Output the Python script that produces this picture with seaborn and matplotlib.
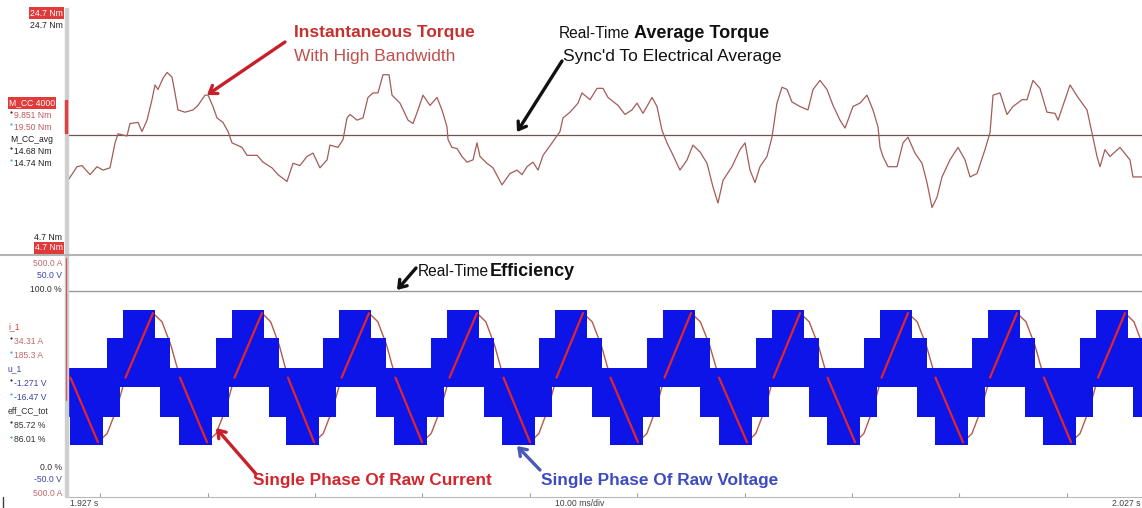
import matplotlib
matplotlib.use('Agg')
import matplotlib.pyplot as plt
import seaborn as sns

# time axis: ms after 1.927 s, 10 ms/div
torque_t = [0.0, 0.84, 1.30, 2.05, 2.70, 3.26, 3.91, 4.38, 4.66, 5.49, 5.77, 6.52, 6.89, 7.36,
            7.82, 8.10, 8.38, 8.85, 9.22, 9.68, 9.96, 10.24, 10.89, 11.64, 12.10, 12.76, 13.04,
            13.50, 13.87, 14.43, 14.90, 15.27, 16.20, 16.67, 17.60, 18.16, 18.99, 19.55, 20.39,
            20.95, 21.60, 22.25, 22.81, 23.46, 24.12, 24.39, 25.14, 25.61, 25.98, 26.26, 26.91,
            27.47, 27.93, 28.40, 28.86, 29.33, 29.89, 30.17, 30.91, 31.66, 32.12, 32.59, 33.05,
            33.71, 34.36, 34.82, 35.29, 35.38, 35.75, 36.22, 36.68, 37.15, 37.71, 38.08, 38.36,
            39.01, 39.57, 40.41, 41.15, 41.81, 42.27, 42.74, 43.30, 43.76, 44.23, 45.07, 45.81,
            46.09, 46.74, 47.49, 47.86, 48.60, 49.26, 49.81, 50.28, 51.21, 51.86, 52.51, 52.98,
            53.54, 54.38, 54.84, 55.31, 55.77, 56.24, 56.98, 57.64, 58.19, 58.85, 59.50, 60.06,
            60.52, 60.99, 61.82, 62.57, 63.04, 63.50, 63.97, 64.43, 65.08, 65.55, 66.01, 66.48,
            66.95, 67.41, 68.16, 68.90, 69.37, 70.02, 70.67, 71.23, 71.88, 72.35, 73.09, 73.74,
            74.39, 74.95, 75.42, 75.61, 75.88, 76.35, 77.19, 77.75, 78.21, 78.86, 79.52, 79.98,
            80.45, 80.91, 81.38, 82.12, 82.87, 83.52, 83.99, 84.64, 85.38, 85.85, 86.13, 86.78,
            87.43, 87.99, 88.83, 89.29, 89.85, 90.50, 91.15, 91.90, 92.18, 93.30, 94.04, 94.88,
            95.34, 95.81, 96.09, 96.55, 97.02, 97.95, 98.88, 99.16, 100.0]
torque_nm = [10.4, 11.6, 11.7, 10.9, 11.6, 11.3, 11.5, 13.7, 14.5, 14.3, 15.4, 15.5, 14.7, 15.7,
             17.5, 18.8, 18.4, 19.4, 19.9, 19.5, 18.1, 16.6, 16.4, 16.6, 17.0, 17.9, 17.9,
             16.9, 15.9, 15.5, 14.7, 13.7, 13.3, 12.6, 12.6, 12.0, 11.5, 10.9, 10.3,
             11.9, 11.7, 12.5, 12.8, 11.5, 12.2, 13.5, 13.3, 14.0, 15.9, 16.2, 15.7,
             15.9, 17.7, 18.1, 18.1, 19.7, 19.7, 17.9, 17.2, 15.7, 15.4, 16.6, 17.9,
             17.0, 17.7, 16.6, 15.1, 14.0, 13.3, 13.2, 12.5, 12.0, 12.2, 13.7, 12.5,
             11.9, 11.5, 10.0, 11.0, 11.3, 10.9, 11.6, 12.0, 11.3, 12.6, 13.7, 14.7,
             15.9, 16.4, 17.2, 18.1, 17.5, 18.5, 18.5, 17.7, 17.0, 16.2, 16.6, 17.2,
             16.3, 17.7, 16.9, 14.8, 13.7, 12.8, 11.3, 12.2, 13.5, 12.9, 11.9, 9.8,
             8.4, 10.4, 11.6, 13.1, 13.7, 11.3, 10.2, 11.6, 12.5, 14.2, 17.2, 18.6,
             18.4, 17.3, 16.9, 16.6, 18.4, 19.2, 18.4, 17.0, 15.7, 15.0, 16.9, 17.2,
             17.9, 16.6, 15.1, 13.3, 12.5, 11.6, 11.6, 13.7, 14.2, 12.8, 11.9, 10.2,
             8.0, 8.9, 10.7, 12.2, 13.3, 12.2, 10.7, 11.0, 13.1, 14.6, 17.9, 18.1,
             16.2, 16.9, 17.5, 17.5, 19.2, 18.5, 16.4, 16.3, 15.7, 18.8, 17.7, 16.6,
             14.6, 12.5, 11.6, 13.1, 12.5, 13.3, 12.2, 10.7, 10.7]
torque_avg_t = [0.0, 100.0]
torque_avg_nm = [14.4, 14.4]

# phase current: turning points (ms) and peak values (A)
cur_min_t = [2.79, 12.94, 22.91, 32.96, 43.02, 53.07, 63.22, 73.28, 83.33, 93.39, 103.4]
cur_max_t = [-2.33, 7.91, 18.06, 28.03, 38.08, 47.95, 58.01, 68.16, 78.21, 88.36, 98.42]
cur_min_a = -279.0
cur_max_a = 282.0
# shape of one half wave (position, fraction of swing)
half_pos = [0.0, 0.167, 0.333, 0.5, 0.667, 0.833, 1.0]
half_val = [0.0, 0.067, 0.25, 0.5, 0.75, 0.933, 1.0]

# phase voltage (multilevel PWM): envelope levels in V per electrical cycle
volt_cycle_t = [-9.87, 0.19, 10.34, 20.30, 30.35, 40.41, 50.47, 60.61, 70.67, 80.73, 90.78]
volt_hi_t = [0.0, 3.45, 4.93, 7.91, 9.31]
volt_hi_v = [4.9, 19.6, 33.3, 19.6, 4.9]
volt_lo_t = [0.0, 3.07, 4.66, 8.38]
volt_lo_v = [-32.8, -19.1, -4.4, -19.1]

eff_t = [0.0, 100.0]
eff_pct = [99.8, 99.8]

time_ticks = [3, 13, 23, 33, 43, 53, 63, 73, 83, 93]

W, H = 1142, 508
sns.set_style('white')
plt.rcParams['font.family'] = ['Liberation Sans', 'DejaVu Sans']

fig = plt.figure(figsize=(W / 100, H / 100), dpi=100)


def fx(x):
    return x / W


def fy(y):
    return 1 - y / H


def label(x, y, s, color='#202020', size=6.2, ha='right', weight='normal', box=None):
    kw = {}
    if box:
        kw['bbox'] = dict(boxstyle='square,pad=0.12', fc=box, ec='none')
    fig.text(fx(x), fy(y), s, color=color, fontsize=size, ha=ha, va='center',
             fontweight=weight, **kw)


def dot(x, y, color):
    fig.add_artist(plt.Line2D([fx(x)], [fy(y)], marker='o', ms=1.6, color=color,
                              mec='none', transform=fig.transFigure))


def arrow(tail, tip, color):
    fig.add_artist(matplotlib.patches.FancyArrowPatch(
        (fx(tail[0]), fy(tail[1])), (fx(tip[0]), fy(tip[1])), transform=fig.transFigure,
        arrowstyle='->,head_length=5,head_width=3.5', lw=2.4, color=color,
        shrinkA=0, shrinkB=0))


# ---- top panel: torque
ax1 = fig.add_axes([fx(68), fy(253), fx(1142 - 68), (253 - 10) / H])
sns.lineplot(x=torque_avg_t, y=torque_avg_nm, ax=ax1, color='#6e5252', lw=0.9)
sns.lineplot(x=torque_t, y=torque_nm, ax=ax1, color='#a35c57', lw=0.9)
ax1.set_xlim(0, 100)
ax1.set_ylim(4.0, 25.4)
ax1.axis('off')

# ---- bottom panel: current / voltage / efficiency
ax2 = fig.add_axes([fx(68), fy(497), fx(1142 - 68), (497 - 258) / H])
ax2.set_xlim(0, 100)
ax2.set_ylim(-517.4, 521.7)

ext = sorted([(t, cur_min_a) for t in cur_min_t] + [(t, cur_max_a) for t in cur_max_t])
sine_t, sine_a = [], []
for (t0, a0), (t1, a1) in zip(ext[:-1], ext[1:]):
    for p, v in zip(half_pos, half_val):
        sine_t.append(t0 + (t1 - t0) * p)
        sine_a.append(a0 + (a1 - a0) * v)
sns.lineplot(x=sine_t, y=sine_a, ax=ax2, color='#b25a4c', lw=1.0, sort=False, zorder=1)

axv = ax2.twinx()
axv.set_ylim(-58.3, 58.8)
vt, vhi, vlo = [], [], []
for s in volt_cycle_t:
    for b in sorted(set(volt_hi_t + volt_lo_t)):
        vt.append(s + b)
        vhi.append([v for t, v in zip(volt_hi_t, volt_hi_v) if t <= b][-1])
        vlo.append([v for t, v in zip(volt_lo_t, volt_lo_v) if t <= b][-1])
vt.append(101.0)
vhi.append(vhi[-1])
vlo.append(vlo[-1])
axv.fill_between(vt, vlo, vhi, step='post', color='#0c14e8', lw=0, zorder=2)

# visible halves of the raw current (drawn over the voltage)
axc = ax2.twinx()
axc.set_ylim(-517.4, 521.7)
for (t0, a0), (t1, a1) in zip(ext[:-1], ext[1:]):
    tm = (t0 + t1) / 2
    axc.plot([tm, t1], [(a0 + a1) / 2, a1], color='#e0262c', lw=1.6)

axe = ax2.twinx()
axe.set_ylim(-17.0, 118.75)
sns.lineplot(x=eff_t, y=eff_pct, ax=axe, color='#9a9a9a', lw=1.0)

for a in (ax2, axv, axc, axe):
    a.set_xlim(0, 100)
    a.set_yticks([])
    a.set_ylabel('')
    for sp in a.spines.values():
        sp.set_visible(False)
ax2.spines['bottom'].set_visible(True)
ax2.spines['bottom'].set_color('#b8b8b8')
ax2.set_xticks(time_ticks)
ax2.set_xticklabels([])
ax2.tick_params(axis='x', direction='in', length=3, color='#a0a0a0', bottom=True)

# frame pieces of the scope screen
fig.add_artist(plt.Line2D([0, 1], [fy(255), fy(255)], color='#b4b4b4', lw=1.5,
                          transform=fig.transFigure))
fig.add_artist(matplotlib.patches.Rectangle((fx(65), fy(497)), fx(3), (497 - 8) / H,
                                            color='#cfcfcf', transform=fig.transFigure))
fig.add_artist(matplotlib.patches.Rectangle((fx(65), fy(133)), fx(2), 33 / H,
                                            color='#e04040', transform=fig.transFigure))
fig.add_artist(plt.Line2D([fx(66), fx(66)], [fy(258), fy(400)], color='#d06060', lw=1,
                          transform=fig.transFigure))
fig.add_artist(plt.Line2D([fx(3), fx(3)], [fy(497), 0], color='#404040', lw=1,
                          transform=fig.transFigure))

# left readouts, top panel
label(63, 13, '24.7 Nm', color='white', box='#e03a3a')
label(63, 25, '24.7 Nm')
label(9, 103, 'M_CC 4000', color='white', ha='left', box='#e03a3a')
label(14, 115, '9.851 Nm', color='#c05a5a', ha='left')
label(14, 127, '19.50 Nm', color='#c05a5a', ha='left')
label(10, 139, 'M_CC_avg', ha='left')
label(14, 151, '14.68 Nm', ha='left')
label(14, 163, '14.74 Nm', ha='left')
label(62, 237, '4.7 Nm')
label(63, 248, '4.7 Nm', color='white', box='#e03a3a')
for yy, c in [(112, '#303030'), (124, '#40b0e0'), (148, '#303030'), (160, '#40b0e0')]:
    dot(11, yy, c)

# left readouts, bottom panel
label(62, 263, '500.0 A', color='#c06a6a')
label(62, 276, '50.0 V', color='#3a44a8')
label(62, 289, '100.0 %', color='#303030')
label(8, 327, 'i_1', color='#d04040', ha='left')
label(14, 341, '34.31 A', color='#c06a6a', ha='left')
label(14, 355, '185.3 A', color='#c06a6a', ha='left')
label(8, 369, 'u_1', color='#3a44a8', ha='left')
label(14, 383, '-1.271 V', color='#3a44a8', ha='left')
label(14, 397, '-16.47 V', color='#3a44a8', ha='left')
label(8, 411, 'eff_CC_tot', color='#303030', ha='left')
label(14, 425, '85.72 %', color='#303030', ha='left')
label(14, 440, '86.01 %', color='#303030', ha='left')
label(62, 467, '0.0 %', color='#303030')
label(62, 480, '-50.0 V', color='#3a44a8')
label(62, 493, '500.0 A', color='#c06a6a')
for yy, c in [(338, '#303030'), (352, '#40b0e0'), (380, '#303030'), (394, '#40b0e0'),
              (422, '#303030'), (437, '#40b0e0')]:
    dot(11, yy, c)

# time axis readouts
label(70, 504, '1.927 s', ha='left', color='#404040')
label(580, 504, '10.00 ms/div', ha='center', color='#404040')
label(1141, 504, '2.027 s', ha='right', color='#404040')

# callouts
label(294, 33, 'Instantaneous Torque', color='#c4312f', size=12.5, ha='left', weight='bold')
label(294, 57, 'With High Bandwidth', color='#c0504d', size=12.5, ha='left')
label(559, 33, 'Real-Time', color='#111111', size=11.2, ha='left')
label(634, 33, 'Average Torque', color='#111111', size=13.0, ha='left', weight='bold')
label(563, 57, "Sync'd To Electrical Average", color='#111111', size=12.5, ha='left')
label(418, 271, 'Real-Time', color='#111111', size=11.2, ha='left')
label(490, 271, 'Efficiency', color='#111111', size=13.0, ha='left', weight='bold')
label(253, 480, 'Single Phase Of Raw Current', color='#d2262c', size=12.4, ha='left',
      weight='bold')
label(541, 480, 'Single Phase Of Raw Voltage', color='#3c4cc0', size=12.4, ha='left',
      weight='bold')

arrow((285, 42), (207, 95), '#c8202a')
arrow((562, 61), (517, 132), '#111111')
arrow((416, 268), (397, 290), '#111111')
arrow((256, 474), (216, 428), '#c8202a')
arrow((540, 470), (517, 446), '#4a5ab8')

fig.savefig('out.png', dpi=100)
